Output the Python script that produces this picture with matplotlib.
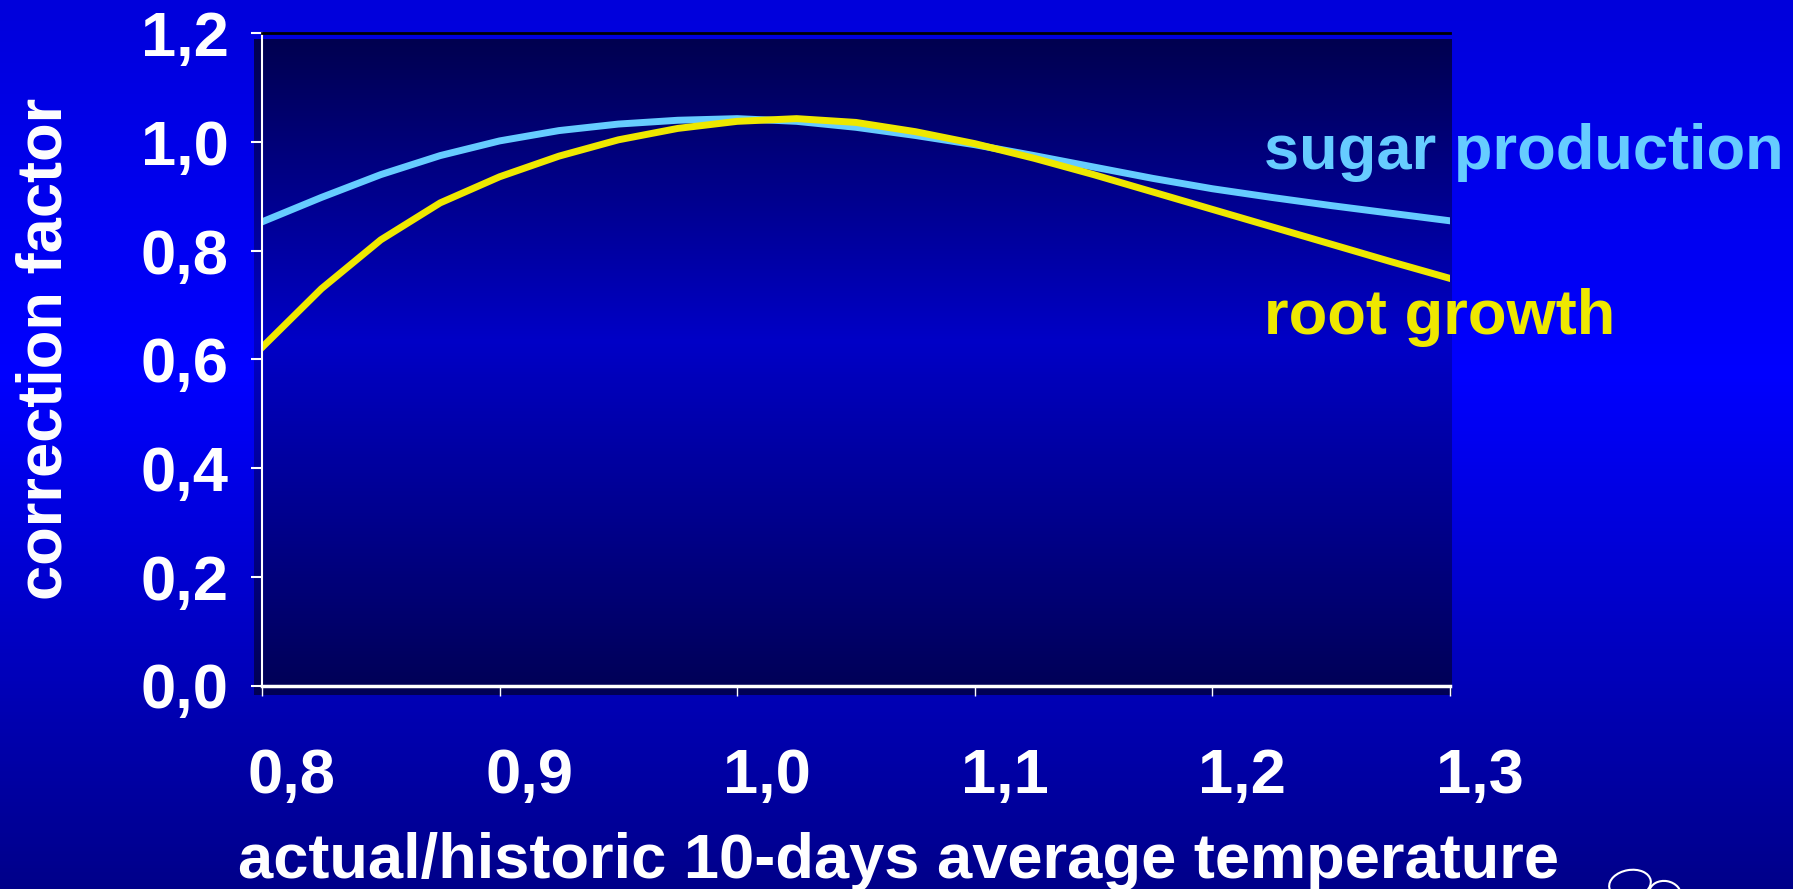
import numpy as np
import matplotlib.pyplot as plt
from matplotlib import transforms
from matplotlib.patches import Ellipse

plt.rcParams['font.family'] = ['Liberation Sans', 'DejaVu Sans']
plt.rcParams['font.weight'] = 'bold'

# ratio of actual to historic 10-day mean temperature
temp_ratio = [0.800, 0.825, 0.850, 0.875, 0.900, 0.925, 0.950, 0.975, 1.000,
              1.025, 1.050, 1.075, 1.100, 1.125, 1.150, 1.175, 1.200,
              1.225, 1.250, 1.275, 1.300]

# correction factors
sugar_production = [0.853, 0.898, 0.940, 0.975, 1.002, 1.021, 1.033, 1.040, 1.043,
                    1.038, 1.027, 1.012, 0.995, 0.975, 0.954, 0.933, 0.914,
                    0.898, 0.883, 0.869, 0.855]
root_growth = [0.622, 0.730, 0.820, 0.888, 0.936, 0.974, 1.004, 1.025, 1.038,
               1.043, 1.036, 1.019, 0.997, 0.970, 0.940, 0.908, 0.876,
               0.844, 0.812, 0.780, 0.749]

x_ticks = [0.8, 0.9, 1.0, 1.1, 1.2, 1.3]
x_tick_labels = ['0,8', '0,9', '1,0', '1,1', '1,2', '1,3']
y_ticks = [0.0, 0.2, 0.4, 0.6, 0.8, 1.0, 1.2]
y_tick_labels = ['0,0', '0,2', '0,4', '0,6', '0,8', '1,0', '1,2']

W, H = 1793, 889
FS = 45.5


def gradient(stops):
    # vertical colour ramp, first stop at the top
    t = np.linspace(0, 1, 256)
    pos = [s[0] for s in stops]
    rgb = np.stack([np.interp(t, pos, [s[1][i] for s in stops]) for i in range(3)], axis=-1)
    return rgb[:, None, :]


fig = plt.figure(figsize=(W / 100, H / 100), dpi=100)

# slide background
bg = fig.add_axes([0, 0, 1, 1])
bg.imshow(gradient([(0.0, (0, 0, 0.86)), (0.42, (0, 0, 1.0)), (1.0, (0, 0, 0.54))]),
          aspect='auto', extent=[0, 1, 0, 1])
bg.set_axis_off()

# dark panel behind the plot
panel = fig.add_axes([254 / W, 1 - 695 / H, (1452 - 254) / W, (695 - 39) / H])
panel.imshow(gradient([(0.0, (0, 0, 0.31)), (0.46, (0, 0, 0.78)), (1.0, (0, 0, 0.33))]),
             aspect='auto', extent=[0, 1, 0, 1])
panel.set_axis_off()

ax = fig.add_axes([262 / W, 1 - 685.5 / H, (1450 - 262) / W, (685.5 - 33.3) / H])
ax.set_facecolor('none')

ax.plot(temp_ratio, sugar_production, color='#66ccff', linewidth=5,
        solid_joinstyle='round')
ax.plot(temp_ratio, root_growth, color='#eee800', linewidth=5,
        solid_joinstyle='round')

ax.set_xlim(0.8, 1.3)
ax.set_ylim(0.0, 1.2)
ax.set_xticks(x_ticks, x_tick_labels)
ax.set_yticks(y_ticks, y_tick_labels)
ax.tick_params(axis='x', colors='white', length=7, width=1, pad=37, labelsize=FS)
ax.tick_params(axis='y', colors='white', length=8, width=1.5, pad=16, labelsize=FS)

# x tick labels sit a bit to the right of their ticks
shift = transforms.ScaledTranslation(0.30, 0, fig.dpi_scale_trans)
for label in ax.get_xticklabels():
    label.set_transform(label.get_transform() + shift)

ax.spines['left'].set_color('white')
ax.spines['left'].set_linewidth(1.5)
ax.spines['bottom'].set_color('white')
ax.spines['bottom'].set_linewidth(2.5)
ax.spines['top'].set_color('black')
ax.spines['top'].set_linewidth(2)
ax.spines['right'].set_visible(False)

# axis titles
fig.text(45 / W, 1 - 349 / H, 'correction factor', rotation=90, ha='center', va='center',
         color='white', fontsize=FS)
fig.text(899 / W, 1 - 878 / H, 'actual/historic 10-days average temperature',
         ha='center', va='baseline', color='white', fontsize=FS)

# series names
fig.text(1264 / W, 1 - 168.5 / H, 'sugar production', ha='left', va='baseline',
         color='#66ccff', fontsize=FS)
fig.text(1264 / W, 1 - 334 / H, 'root growth', ha='left', va='baseline',
         color='#eee800', fontsize=FS)

# small leaf outline in the corner
for cx, cy, w, h, a in [(1630, 884, 42, 28, 10), (1665, 894, 32, 26, -10)]:
    fig.add_artist(Ellipse((cx / 100, (H - cy) / 100), w / 100, h / 100, angle=a,
                           fill=False, edgecolor='white', linewidth=1.5,
                           transform=fig.dpi_scale_trans))

fig.savefig('out.png', dpi=100)
